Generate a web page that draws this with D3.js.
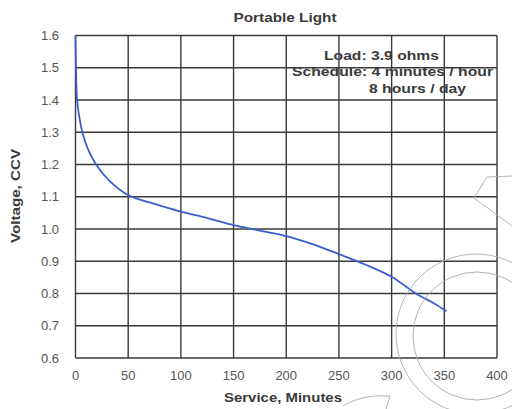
<!DOCTYPE html>
<html><head><meta charset="utf-8">
<script src="https://cdn.jsdelivr.net/npm/d3@7"></script>
<style>
html,body{margin:0;padding:0;background:#fff;}
svg{display:block;}
text{font-family:"Liberation Sans",Arial,sans-serif;}
</style></head>
<body>
<svg id="c" width="512" height="409"></svg>
<script>
const minutes = [0, 0.5, 1.5, 3.5, 6.5, 11.5, 19.5, 32, 50, 75, 100, 125, 150, 175, 200, 225, 250, 275, 300, 323, 340, 352];
const voltage = [1.6, 1.5, 1.4, 1.35, 1.3, 1.25, 1.2, 1.15, 1.105, 1.078, 1.054, 1.034, 1.012, 0.995, 0.978, 0.953, 0.922, 0.89, 0.852, 0.80, 0.77, 0.745];
const xTicks = [0, 50, 100, 150, 200, 250, 300, 350, 400];
const yTicks = [0.6, 0.7, 0.8, 0.9, 1.0, 1.1, 1.2, 1.3, 1.4, 1.5, 1.6];
const yTickLabels = ["0.6","0.7","0.8","0.9","1.0","1.1","1.2","1.3","1.4","1.5","1.6"];
const title = "Portable Light";
const xTitle = "Service, Minutes";
const yTitle = "Voltage, CCV";
const notes = ["Load: 3.9 ohms", "Schedule: 4 minutes / hour", "8 hours / day"];

const svg = d3.select("#c");
const x = d3.scaleLinear().domain([0, 400]).range([75.5, 497]);
const y = d3.scaleLinear().domain([0.6, 1.6]).range([358, 35.5]);

const grid = svg.append("g").attr("stroke", "#3a3a3a").attr("stroke-width", 1.4);
grid.selectAll("line.v").data(xTicks).join("line")
  .attr("x1", d => x(d)).attr("x2", d => x(d))
  .attr("y1", y(0.6)).attr("y2", y(1.6));
grid.selectAll("line.h").data(yTicks).join("line")
  .attr("x1", x(0)).attr("x2", x(400))
  .attr("y1", d => y(d)).attr("y2", d => y(d));

// tick labels
svg.append("g").selectAll("text").data(yTicks).join("text")
  .attr("x", 59).attr("y", d => y(d)).attr("dy", "0.35em")
  .attr("text-anchor", "end").attr("font-size", 13).attr("fill", "#555")
  .text((d, i) => yTickLabels[i]);
svg.append("g").selectAll("text").data(xTicks).join("text")
  .attr("x", d => x(d)).attr("y", 380)
  .attr("text-anchor", "middle").attr("font-size", 13).attr("fill", "#555")
  .text(d => d);

// curve
const pts = minutes.map((m, i) => [m, voltage[i]]);
svg.append("path").datum(pts)
  .attr("fill", "none").attr("stroke", "#3b5fcf").attr("stroke-width", 1.8)
  .attr("d", d3.line().x(d => x(d[0])).y(d => y(d[1])).curve(d3.curveCatmullRom.alpha(0.5)));

// titles
svg.append("text").attr("x", 285).attr("y", 22).attr("text-anchor", "middle")
  .attr("font-size", 13).attr("font-weight", "bold").attr("fill", "#3a3a3a")
  .attr("textLength", 103).attr("lengthAdjust", "spacingAndGlyphs").text(title);
svg.append("text").attr("x", 283).attr("y", 402).attr("text-anchor", "middle")
  .attr("font-size", 13).attr("font-weight", "bold").attr("fill", "#3a3a3a")
  .attr("textLength", 118).attr("lengthAdjust", "spacingAndGlyphs").text(xTitle);
svg.append("text").attr("transform", "translate(20,196) rotate(-90)").attr("text-anchor", "middle")
  .attr("font-size", 13).attr("font-weight", "bold").attr("fill", "#3a3a3a")
  .attr("textLength", 94).attr("lengthAdjust", "spacingAndGlyphs").text(yTitle);

// annotation
const noteX = [324, 292, 369], noteY = [60, 76, 93], noteW = [115, 201, 97];
svg.append("g").selectAll("text").data(notes).join("text")
  .attr("x", (d, i) => noteX[i]).attr("y", (d, i) => noteY[i])
  .attr("font-size", 13).attr("font-weight", "bold").attr("fill", "#3a3a3a")
  .attr("textLength", (d, i) => noteW[i]).attr("lengthAdjust", "spacingAndGlyphs")
  .text(d => d);

// faint watermark strokes
const wm = svg.append("g").attr("fill", "none").attr("stroke", "#aaa").attr("stroke-width", 0.9);
wm.append("circle").attr("cx", 476).attr("cy", 334).attr("r", 80);
wm.append("circle").attr("cx", 477).attr("cy", 336).attr("r", 64);
wm.append("path").attr("d", "M512,176 L487,177 L474,198 L512,226");
wm.append("path").attr("d", "M343,406 Q362,394 390,396 L386,409");
</script>
</body></html>
